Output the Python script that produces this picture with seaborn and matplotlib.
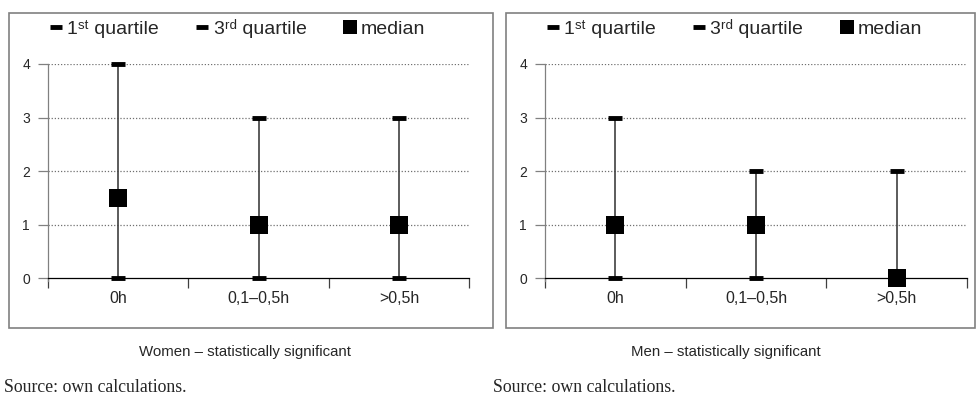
import matplotlib

matplotlib.use("Agg")
import matplotlib.pyplot as plt
import numpy as np
import pandas as pd
import seaborn as sns
from matplotlib.lines import Line2D
from matplotlib.patches import Rectangle

categories = ["0h", "0,1–0,5h", ">0,5h"]

women_q1 = [0, 0, 0]
women_q3 = [4, 3, 3]
women_median = [1.5, 1, 1]

men_q1 = [0, 0, 0]
men_q3 = [3, 2, 2]
men_median = [1, 1, 0]

panel_titles = ["Women – statistically significant", "Men – statistically significant"]
source_text = "Source: own calculations."
y_ticks = [0, 1, 2, 3, 4]

sns.set_style("white")
plt.rcParams["font.family"] = ["Liberation Sans", "DejaVu Sans"]


def draw_panel(fig, ax, q1, q3, median):
    """Draws the quartile range with median for one group."""
    df = pd.DataFrame({"cat": categories, "q1": q1, "q3": q3, "median": median})
    pos = np.arange(len(categories))

    # dotted grid lines
    for yv in y_ticks[1:]:
        ax.axhline(yv, color="#707070", lw=0.9, ls=(0, (1, 1.5)), zorder=0)

    ax.vlines(pos, df["q1"], df["q3"], color="#404040", lw=1.2, zorder=2)
    sns.scatterplot(data=df, x="cat", y="q1", marker="_", s=110, linewidth=3.5,
                    color="black", ax=ax, zorder=3, clip_on=False)
    sns.scatterplot(data=df, x="cat", y="q3", marker="_", s=110, linewidth=3.5,
                    color="black", ax=ax, zorder=3, clip_on=False)
    sns.scatterplot(data=df, x="cat", y="median", marker="s", s=150, linewidth=0,
                    color="black", ax=ax, zorder=4, clip_on=False)

    ax.set_xlim(-0.5, len(categories) - 0.5)
    ax.set_ylim(0, 4)
    ax.set(xlabel="", ylabel="")

    # category boundaries as major ticks, names as minor ticks
    ax.set_xticks(np.arange(len(categories) + 1) - 0.5)
    ax.set_xticklabels([])
    ax.set_xticks(pos, minor=True)
    ax.set_xticklabels(categories, minor=True, fontsize=11.5)
    ax.tick_params(axis="x", which="major", direction="out", length=7, width=0.9,
                   color="#404040", bottom=True)
    ax.tick_params(axis="x", which="minor", length=0, pad=9)

    ax.set_yticks(y_ticks)
    ax.set_yticklabels([str(t) for t in y_ticks], fontsize=10)
    ax.tick_params(axis="y", direction="out", length=7, width=0.9, color="#808080",
                   left=True, pad=6)

    for side in ["top", "right"]:
        ax.spines[side].set_visible(False)
    ax.spines["left"].set_color("#808080")
    ax.spines["left"].set_linewidth(0.9)
    ax.spines["left"].set_bounds(-0.05, 4)
    ax.spines["bottom"].set_color("black")
    ax.spines["bottom"].set_linewidth(0.9)

    handles = [
        Line2D([], [], marker="_", ls="none", color="black", markersize=8, mew=3.5),
        Line2D([], [], marker="_", ls="none", color="black", markersize=8, mew=3.5),
        Line2D([], [], marker="s", ls="none", color="black", markersize=10, mew=0),
    ]
    labels = ["1ˢᵗ quartile", "3ʳᵈ quartile", "median"]
    ax.legend(handles, labels, ncol=3, frameon=False, fontsize=14,
              loc="center left", bbox_to_anchor=(-0.035, 1.165),
              handlelength=0.55, handletextpad=0.3, columnspacing=1.95)


fig = plt.figure(figsize=(9.76, 4.01), dpi=100)

ax_left = fig.add_axes([0.0492, 0.3067, 0.4314, 0.5337])
ax_right = fig.add_axes([0.5584, 0.3067, 0.4324, 0.5337])

draw_panel(fig, ax_left, women_q1, women_q3, women_median)
draw_panel(fig, ax_right, men_q1, men_q3, men_median)

# panel frames
fig.add_artist(Rectangle((0.0092, 0.182), 0.4959, 0.7855, transform=fig.transFigure,
                         fill=False, edgecolor="#808080", lw=1.2))
fig.add_artist(Rectangle((0.5184, 0.182), 0.4805, 0.7855, transform=fig.transFigure,
                         fill=False, edgecolor="#808080", lw=1.2))

fig.text(0.2515, 1 - 352 / 401, panel_titles[0], ha="center", va="center", fontsize=10.8)
fig.text(0.7440, 1 - 352 / 401, panel_titles[1], ha="center", va="center", fontsize=10.8)
fig.text(0.004, 1 - 387 / 401, source_text, ha="left", va="center", fontsize=12.8,
         family="Liberation Serif")
fig.text(0.505, 1 - 387 / 401, source_text, ha="left", va="center", fontsize=12.8,
         family="Liberation Serif")

fig.savefig("out.png", dpi=100)
